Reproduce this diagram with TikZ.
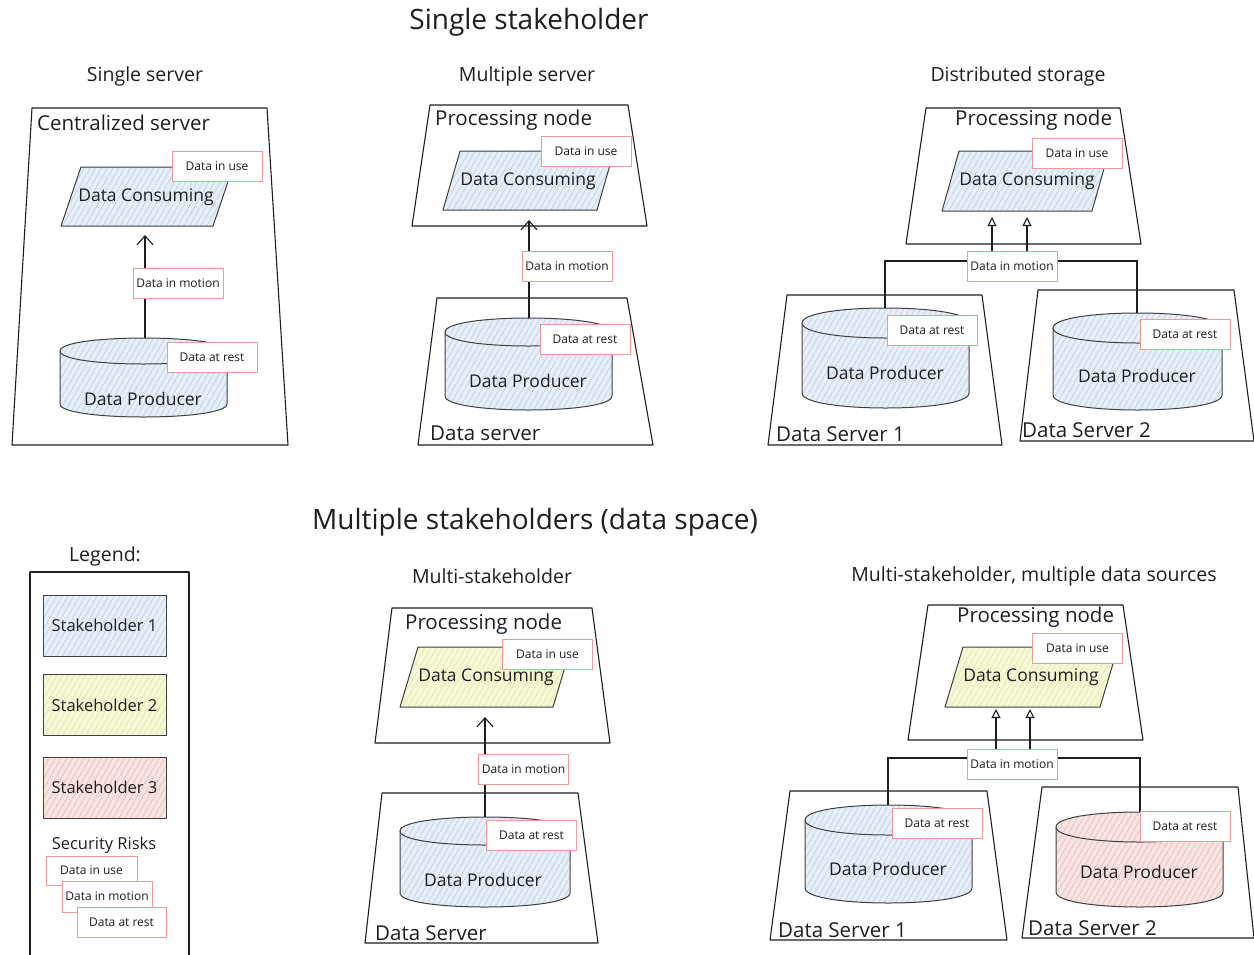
\documentclass[tikz,border=0pt]{standalone}
\usepackage{fontspec}
\setmainfont{Open Sans}
\usetikzlibrary{arrows.meta,patterns.meta}
\definecolor{fillblue}{HTML}{E6EEF8}
\definecolor{hatchblue}{HTML}{B9CCE3}
\definecolor{fillyellow}{HTML}{F6F7D4}
\definecolor{hatchyellow}{HTML}{E2E4A6}
\definecolor{fillpink}{HTML}{F8E3E3}
\definecolor{hatchpink}{HTML}{E9B5B5}
\definecolor{riskred}{HTML}{EE9A9A}
\definecolor{ink}{HTML}{1E1E1E}
\newcommand{\Para}[6]{% xl xr ytop ybot slant style
  \path[shapeline,#6] ({#1+#5},#3) -- ({#2+#5},#3) -- (#2,#4) -- (#1,#4) -- cycle;}
\newcommand{\Cyl}[6]{% xl xr ytop ybot ry style
  \path[shapeline,#6] (#1,{#3+#5}) -- (#1,{#4-#5})
     .. controls (#1,{#4+#5/3}) and (#2,{#4+#5/3}) .. (#2,{#4-#5})
     -- (#2,{#3+#5})
     .. controls (#2,{#3-#5/3}) and (#1,{#3-#5/3}) .. cycle;
  \draw[shapeline] (#1,{#3+#5}) .. controls (#1,{#3+7*#5/3}) and (#2,{#3+7*#5/3}) .. (#2,{#3+#5});}
\tikzset{
  frame/.style={draw=ink, line width=1.1pt, line join=round},
  shapeline/.style={draw=ink!85, line width=1pt, line join=round},
  bluef/.style={preaction={fill=fillblue}, preaction={pattern={Lines[angle=60,distance=5pt,line width=0.5pt]}, pattern color=hatchblue}},
  yellowf/.style={preaction={fill=fillyellow}, preaction={pattern={Lines[angle=60,distance=5pt,line width=0.5pt]}, pattern color=hatchyellow}},
  pinkf/.style={preaction={fill=fillpink}, preaction={pattern={Lines[angle=60,distance=5pt,line width=0.5pt]}, pattern color=hatchpink}},
  risk/.style={draw=riskred, line width=1pt, fill=white, minimum width=90pt, minimum height=30pt, inner sep=0pt, text=ink, font={\fontsize{12}{14}\selectfont}},
  bigtitle/.style={text=ink, font={\fontsize{28}{32}\selectfont}},
  subtitle/.style={text=ink, font={\fontsize{19.5}{23}\selectfont}},
  boxtitle/.style={text=ink, anchor=west, inner sep=0pt, font={\fontsize{20.5}{24}\selectfont}},
  inner/.style={text=ink, font={\fontsize{17.5}{20}\selectfont}},
  legtext/.style={text=ink, font={\fontsize{16.5}{19}\selectfont}},
  legbox/.style={shapeline, minimum width=123pt, minimum height=61pt, inner sep=0pt, legtext},
  conn/.style={draw=ink, line width=1.1pt},
  vtip/.style={conn, -{Straight Barb[length=9pt,width=16pt,line width=1.1pt]}},
  ttip/.style={conn, -{Triangle[open,length=9pt,width=9pt,line width=1.1pt]}},
}
\begin{document}
\begin{tikzpicture}[x=1pt,y=-1pt]
\useasboundingbox (0,0) rectangle (1254,954);

% ---------- titles ----------
\node[bigtitle] (T1) at (529,22) {Single stakeholder};
\node[bigtitle] (T2) at (535,522) {Multiple stakeholders (data space)};
\node[subtitle] (S1) at (145,76) {Single server};
\node[subtitle] (S2) at (527,76) {Multiple server};
\node[subtitle] (S3) at (1018,76) {Distributed storage};
\node[subtitle] (S4) at (492,576) {Multi-stakeholder};
\node[subtitle] (S5) at (1034,576) {Multi-stakeholder, multiple data sources};

% ---------- single server ----------
\draw[frame] (32,108) -- (267,108) -- (288,445) -- (12,445) -- cycle;
\node[boxtitle] (A0) at (37,123) {Centralized server};
\Para{61}{213}{167}{226}{20}{bluef}
\node[inner] (A1) at (146,197) {Data Consuming};
\Cyl{60}{227}{338}{417}{13}{bluef}
\node[inner] (A2) at (143,399) {Data Producer};
\coordinate (A2t) at (145,338);
\coordinate (A1b) at (145,235);
\draw[vtip] (A2t) -- (A1b);
\node[risk] (Au) at (217,166) {Data in use};
\node[risk] (Am) at (178,283) {Data in motion};
\node[risk] (Ar) at (212,357) {Data at rest};

% ---------- multiple server ----------
\draw[frame] (430,105) -- (628,105) -- (647,226) -- (412,226) -- cycle;
\node[boxtitle] (B0) at (435,120) {Processing node};
\Para{443}{597}{151}{210}{17}{bluef}
\node[inner] (B1) at (528,181) {Data Consuming};
\draw[frame] (437,298) -- (627,298) -- (653,445) -- (418,445) -- cycle;
\node[boxtitle] (B3) at (430,433) {Data server};
\Cyl{445}{612}{318}{410}{14}{bluef}
\node[inner] (B2) at (528,381) {Data Producer};
\coordinate (B2t) at (529,318);
\coordinate (B1b) at (529,220);
\draw[vtip] (B2t) -- (B1b);
\node[risk] (Bu) at (586,151) {Data in use};
\node[risk] (Bm) at (567,266) {Data in motion};
\node[risk] (Br) at (585,339) {Data at rest};

% ---------- distributed storage ----------
\draw[frame] (926,108) -- (1120,108) -- (1141,244) -- (906,244) -- cycle;
\node[boxtitle] (C0) at (955,120) {Processing node};
\Para{942}{1092}{151}{211}{17}{bluef}
\node[inner] (C1) at (1027,181) {Data Consuming};
\draw[frame] (787,295) -- (982,295) -- (1002,445) -- (768,445) -- cycle;
\draw[frame] (1038,290) -- (1234,290) -- (1254,441) -- (1020,441) -- cycle;
\node[boxtitle] (C4) at (776,434) {Data Server 1};
\node[boxtitle] (C5) at (1022,430) {Data Server 2};
\Cyl{802}{969}{308}{408}{15}{bluef}
\Cyl{1053}{1222}{313}{410}{15}{bluef}
\node[inner] (C2) at (885,373) {Data Producer};
\node[inner] (C3) at (1137,376) {Data Producer};
\coordinate (C2t) at (885,308);
\coordinate (C3t) at (1137,313);
\coordinate (C1a) at (992,217);
\coordinate (C1c) at (1027,217);
\draw[ttip] (C2t) -- (C2t |- 0,261) -- (C1a |- 0,261) -- (C1a);
\draw[ttip] (C3t) -- (C3t |- 0,261) -- (C1c |- 0,261) -- (C1c);
\node[risk] (Cu) at (1077,153) {Data in use};
\node[risk] (Cm) at (1012,266) {Data in motion};
\node[risk] (Cr1) at (932,330) {Data at rest};
\node[risk] (Cr2) at (1185,334) {Data at rest};

% ---------- legend ----------
\node[subtitle] (L0) at (105,556) {Legend:};
\draw[frame] (30,572) rectangle (189,970);
\node[legbox, bluef] (L1) at (104.5,625.5) {Stakeholder 1};
\node[legbox, yellowf] (L2) at (104.5,705) {Stakeholder 2};
\node[legbox, pinkf] (L3) at (104.5,787.5) {Stakeholder 3};
\node[legtext] (L4) at (104,845) {Security Risks};
\node[risk, minimum width=91pt, minimum height=29pt] (Lu) at (91.5,870.5) {Data in use};
\node[risk, minimum width=90pt, minimum height=31pt] (Lm) at (107,896.5) {Data in motion};
\node[risk, minimum width=89pt, minimum height=30pt] (Lr) at (121.5,922) {Data at rest};

% ---------- multi-stakeholder ----------
\draw[frame] (392,608) -- (592,608) -- (610,743) -- (375,743) -- cycle;
\node[boxtitle] (D0) at (405,624) {Processing node};
\Para{400}{553}{647}{707}{18}{yellowf}
\node[inner] (D1) at (486,677) {Data Consuming};
\draw[frame] (382,793) -- (578,793) -- (598,943) -- (365,943) -- cycle;
\node[boxtitle] (D3) at (375,933) {Data Server};
\Cyl{400}{570}{817}{907}{14}{bluef}
\node[inner] (D2) at (483,880) {Data Producer};
\coordinate (D2t) at (485,817);
\coordinate (D1b) at (485,717);
\draw[vtip] (D2t) -- (D1b);
\node[risk] (Du) at (547.5,654) {Data in use};
\node[risk] (Dm) at (523.5,769) {Data in motion};
\node[risk] (Dr) at (531.5,835) {Data at rest};

% ---------- multi-stakeholder, multiple sources ----------
\draw[frame] (928,605) -- (1123,605) -- (1143,740) -- (908,740) -- cycle;
\node[boxtitle] (E0) at (957,617) {Processing node};
\Para{945}{1100}{647}{707}{18}{yellowf}
\node[inner] (E1) at (1031,677) {Data Consuming};
\draw[frame] (790,791) -- (987,791) -- (1007,940) -- (770,940) -- cycle;
\draw[frame] (1042,787) -- (1238,787) -- (1254,938) -- (1022,938) -- cycle;
\node[boxtitle] (E4) at (778,930) {Data Server 1};
\node[boxtitle] (E5) at (1028,928) {Data Server 2};
\Cyl{805}{972}{805}{903}{15}{bluef}
\Cyl{1056}{1223}{812}{907}{15}{pinkf}
\node[inner] (E2) at (888,869) {Data Producer};
\node[inner] (E3) at (1139,872) {Data Producer};
\coordinate (E2t) at (888,805);
\coordinate (E3t) at (1140,812);
\coordinate (E1a) at (996,709);
\coordinate (E1c) at (1030,709);
\draw[ttip] (E2t) -- (E2t |- 0,758) -- (E1a |- 0,758) -- (E1a);
\draw[ttip] (E3t) -- (E3t |- 0,758) -- (E1c |- 0,758) -- (E1c);
\node[risk] (Eu) at (1077.5,648.5) {Data in use};
\node[risk] (Em) at (1012,764.5) {Data in motion};
\node[risk] (Er1) at (937,823.5) {Data at rest};
\node[risk] (Er2) at (1185,826.5) {Data at rest};
\end{tikzpicture}
\end{document}
